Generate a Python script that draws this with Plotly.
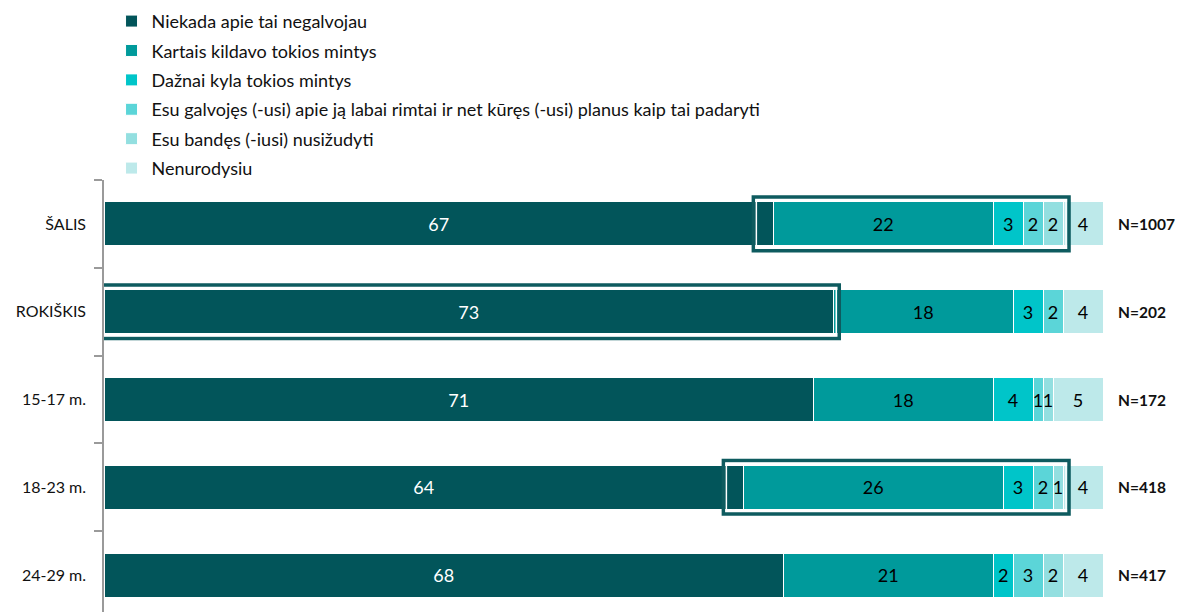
import plotly.graph_objects as go

categories = ["ŠALIS", "ROKIŠKIS", "15-17 m.", "18-23 m.", "24-29 m."]
series_names = [
    "Niekada apie tai negalvojau",
    "Kartais kildavo tokios mintys",
    "Dažnai kyla tokios mintys",
    "Esu galvojęs (-usi) apie ją labai rimtai ir net kūręs (-usi) planus kaip tai padaryti",
    "Esu bandęs (-iusi) nusižudyti",
    "Nenurodysiu",
]
niekada = [67, 73, 71, 64, 68]
kartais = [22, 18, 18, 26, 21]
daznai = [3, 3, 4, 3, 2]
galvojes = [2, 2, 1, 2, 3]
bandes = [2, 0, 1, 1, 2]
nenurodysiu = [4, 4, 5, 4, 4]
n_labels = ["N=1007", "N=202", "N=172", "N=418", "N=417"]

series_values = [niekada, kartais, daznai, galvojes, bandes, nenurodysiu]
colors = ["#02555a", "#009a9b", "#00c5c9", "#5bd5d8", "#93dfe0", "#bde9ea"]
text_colors = ["white", "black", "black", "black", "black", "black"]

# highlighted frames: (category index, first segment, last segment)
highlights = [(0, 1, 4), (1, 0, 0), (3, 1, 4)]

FONT = "Lato"
fig = go.Figure()
for name, vals, col, tc in zip(series_names, series_values, colors, text_colors):
    fig.add_trace(go.Bar(
        y=categories, x=vals, name=name, orientation="h",
        marker=dict(color=col, line=dict(color="white", width=1)),
        text=[str(v) if v > 0 else "" for v in vals],
        textposition="inside", insidetextanchor="middle",
        textfont=dict(color=tc, size=18, family=FONT),
        width=0.5, legendgroup=name, hoverinfo="skip",
    ))

shapes = []
for ci, s0, s1 in highlights:
    start = sum(series_values[k][ci] for k in range(s0))
    end = sum(series_values[k][ci] for k in range(s1 + 1))
    x0, x1 = start - 2.0, end + 0.6
    y0, y1 = ci - 0.305, ci + 0.305
    shapes.append(dict(type="rect", xref="x", yref="y", x0=x0, x1=x1, y0=y0, y1=y1,
                       line=dict(color="#0e5b5f", width=3.5), fillcolor="rgba(0,0,0,0)", layer="above"))
    shapes.append(dict(type="rect", xref="x", yref="y", x0=x0 + 0.3, x1=x1 - 0.3,
                       y0=y0 + 0.035, y1=y1 - 0.035,
                       line=dict(color="white", width=1.5), fillcolor="rgba(0,0,0,0)", layer="above"))

annotations = []
for cat, lab in zip(categories, n_labels):
    annotations.append(dict(x=1.013, xref="paper", y=cat, yref="y", text="<b>" + lab + "</b>",
                            showarrow=False, xanchor="left", yanchor="middle",
                            font=dict(size=15.5, color="#111111", family=FONT)))

fig.update_layout(
    barmode="stack",
    width=1186, height=612,
    margin=dict(l=96, r=91, t=172, b=8, autoexpand=False),
    plot_bgcolor="white", paper_bgcolor="white",
    font=dict(family=FONT, color="#111111"),
    showlegend=True,
    legend=dict(xref="container", yref="paper", x=0.0873, y=1.41, xanchor="left", yanchor="top",
                font=dict(size=18, family=FONT, color="#111111"), tracegroupgap=3,
                traceorder="grouped", bgcolor="rgba(0,0,0,0)"),
    uniformtext=dict(minsize=18, mode="show"),
    shapes=shapes, annotations=annotations,
    bargap=0.5,
)
fig.update_xaxes(range=[0, 100], visible=False, fixedrange=True, automargin=False)
fig.update_yaxes(type="category", range=[4.42, -0.5], showline=True, linecolor="#9a9a9a", linewidth=1.5,
                 ticks="outside", tickson="boundaries", ticklen=8, tickcolor="#9a9a9a", tickwidth=1.5,
                 showgrid=False, ticklabelstandoff=13, automargin=False,
                 tickfont=dict(size=16, family=FONT, color="#111111"))

fig.write_html("out.html")
